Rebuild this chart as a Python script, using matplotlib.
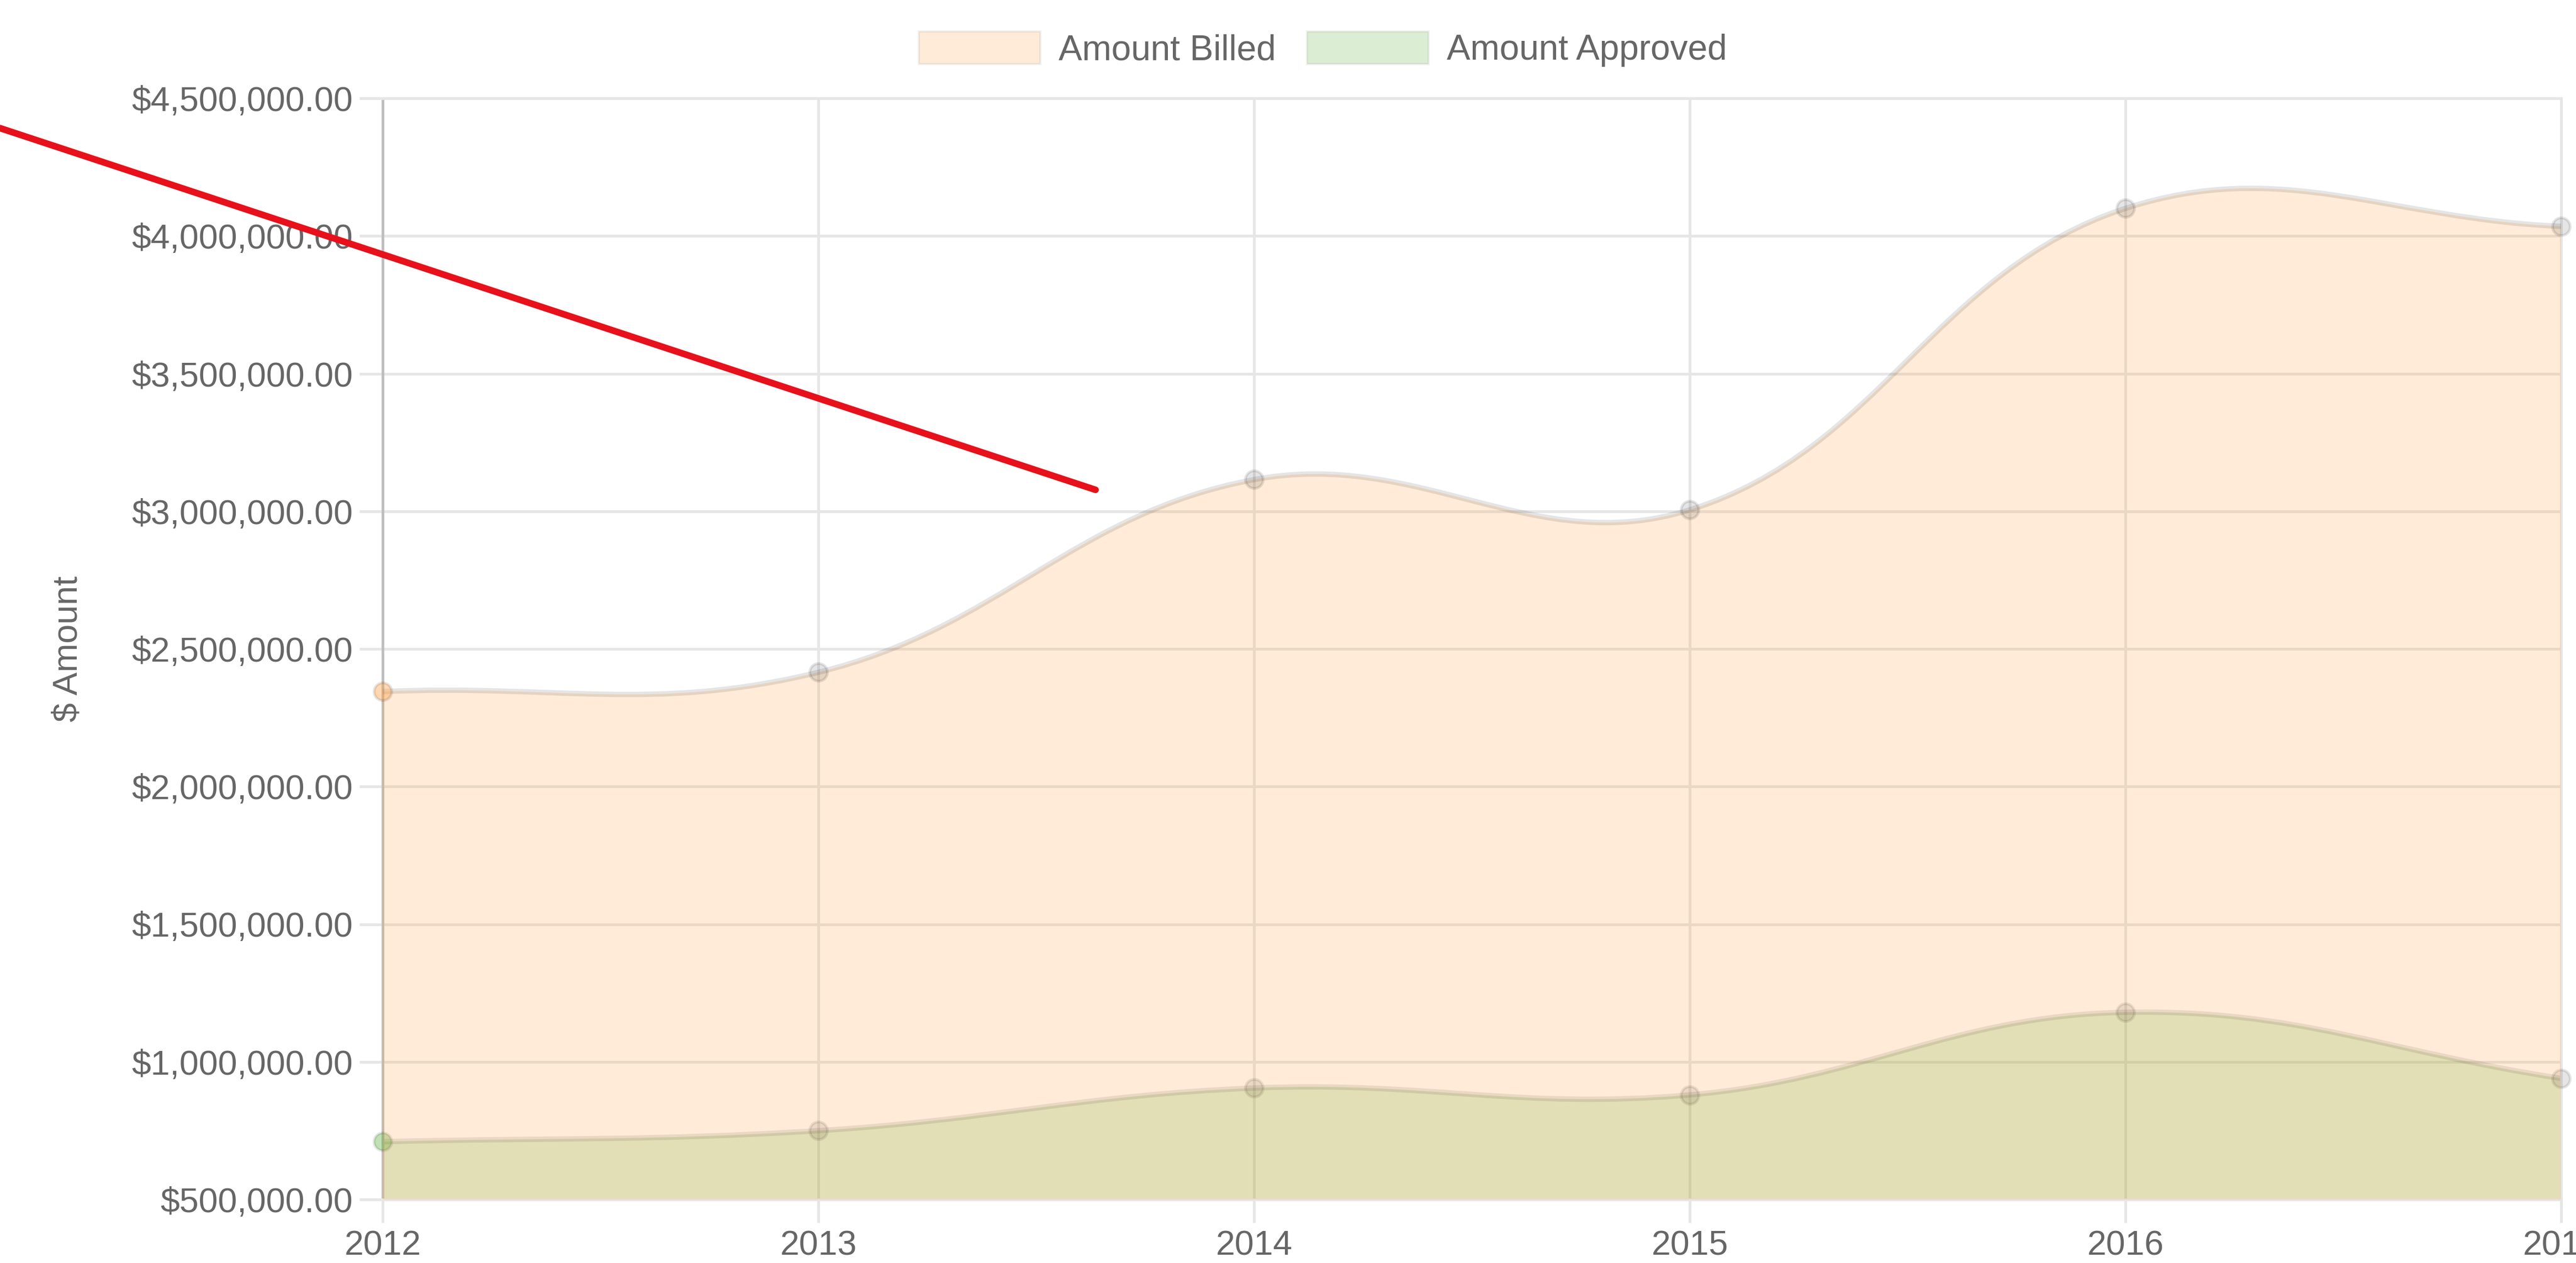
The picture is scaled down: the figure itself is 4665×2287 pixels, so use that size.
import matplotlib
matplotlib.use('Agg')
import matplotlib.pyplot as plt
import numpy as np
from matplotlib.path import Path
from matplotlib.patches import PathPatch, Patch
from matplotlib.lines import Line2D
from matplotlib.ticker import FuncFormatter

plt.rcParams['font.family'] = ['Liberation Sans', 'DejaVu Sans']

# --- data ---
years = ['2012', '2013', '2014', '2015', '2016', '2017']
amount_billed = [2345000, 2415000, 3115000, 3005000, 4100000, 4035000]
amount_approved = [710000, 750000, 905000, 880000, 1180000, 940000]
y_ticks = [500000, 1000000, 1500000, 2000000, 2500000,
           3000000, 3500000, 4000000, 4500000]

# --- styles (chart.js look) ---
BILLED_FILL = (255/255, 159/255, 64/255, 0.2)
APPROVED_FILL = (75/255, 170/255, 40/255, 0.2)
BORDER = (0, 0, 0, 0.1)
GRID = '#e6e6e6'
ZERO_LINE = '#bfbfbf'
TEXT = '#666666'
FS = 45


def spline_verts(ax, xs, ys, tension=0.4):
    """Bezier control points the way chart.js builds them (in pixel space)."""
    pts = ax.transData.transform(np.column_stack([xs, ys]))
    n = len(pts)
    cp_prev = pts.copy()
    cp_next = pts.copy()
    for i in range(n):
        prev = pts[i - 1] if i > 0 else pts[i]
        cur = pts[i]
        nxt = pts[i + 1] if i < n - 1 else pts[i]
        d01 = np.hypot(*(cur - prev))
        d12 = np.hypot(*(nxt - cur))
        tot = d01 + d12
        s01 = d01 / tot if tot else 0
        s12 = d12 / tot if tot else 0
        cp_prev[i] = cur - tension * s01 * (nxt - prev)
        cp_next[i] = cur + tension * s12 * (nxt - prev)
    bb = ax.bbox
    for arr in (cp_prev, cp_next):
        arr[:, 0] = np.clip(arr[:, 0], bb.x0, bb.x1)
        arr[:, 1] = np.clip(arr[:, 1], bb.y0, bb.y1)
    verts = [pts[0]]
    codes = [Path.MOVETO]
    for i in range(n - 1):
        verts += [cp_next[i], cp_prev[i + 1], pts[i + 1]]
        codes += [Path.CURVE4] * 3
    return ax.transData.inverted().transform(np.array(verts)), codes


fig = plt.figure(figsize=(46.65, 22.87), dpi=100)
ax = fig.add_axes([693 / 4665, 1 - 2172 / 2287, (4638 - 693) / 4665, (2172 - 178) / 2287])

x = np.arange(len(years))
ax.set_xlim(0, len(years) - 1)
ax.set_ylim(y_ticks[0], y_ticks[-1])
ax.set_xticks(x)
ax.set_xticklabels(years)
ax.set_yticks(y_ticks)
ax.yaxis.set_major_formatter(FuncFormatter(lambda v, p: f"${v:,.2f}"))

ax.set_axisbelow(True)
ax.grid(True, color=GRID, linewidth=3.6, alpha=1)
for side in ['top', 'right', 'bottom']:
    ax.spines[side].set_color(GRID)
    ax.spines[side].set_linewidth(3.6)
ax.spines['left'].set_color(ZERO_LINE)
ax.spines['left'].set_linewidth(3.6)

ax.tick_params(axis='both', length=30, width=3.6, color=GRID,
               labelcolor=TEXT, labelsize=FS, pad=9)
ax.xaxis.get_major_ticks()[0].tick1line.set_color(ZERO_LINE)
ax.xaxis.get_major_ticks()[0].gridline.set_color(ZERO_LINE)

ax.set_ylabel('$ Amount', fontsize=FS, color=TEXT)
ax.yaxis.set_label_coords(-0.137, 0.5)

# datasets: approved drawn first, billed on top (chart.js order)
series = [
    (amount_approved, APPROVED_FILL, (75/255, 170/255, 40/255, 0.35), 1),
    (amount_billed, BILLED_FILL, (255/255, 159/255, 64/255, 0.4), 4),
]
ymin = y_ticks[0]
for vals, fill, first_pt, z in series:
    verts, codes = spline_verts(ax, x, vals)
    fill_verts = list(verts) + [(x[-1], ymin), (x[0], ymin), (x[0], vals[0])]
    fill_codes = codes + [Path.LINETO, Path.LINETO, Path.CLOSEPOLY]
    ax.add_patch(PathPatch(Path(fill_verts, fill_codes), facecolor=fill,
                           edgecolor='none', zorder=z))
    ax.add_patch(PathPatch(Path(verts, codes), facecolor='none',
                           edgecolor=BORDER, linewidth=7, zorder=z + 1))
    faces = [first_pt] + [BORDER] * (len(vals) - 1)
    for xi, yi, fc in zip(x, vals, faces):
        ax.plot(xi, yi, 'o', markersize=23, markerfacecolor=fc,
                markeredgecolor=BORDER, markeredgewidth=3.6,
                clip_on=False, zorder=z + 2)

handles = [Patch(facecolor=BILLED_FILL, edgecolor=(0, 0, 0, 0.06), linewidth=3, label='Amount Billed'),
           Patch(facecolor=APPROVED_FILL, edgecolor=(0, 0, 0, 0.06), linewidth=3, label='Amount Approved')]
leg = fig.legend(handles=handles, loc='center', bbox_to_anchor=(2396 / 4665, 1 - 89 / 2287),
                 ncol=2, frameon=False, fontsize=46, handlelength=3.44, handleheight=1.06,
                 handletextpad=0.52, columnspacing=0.875, borderpad=0, borderaxespad=0)
for t in leg.get_texts():
    t.set_color(TEXT)

# red marker line drawn over the screenshot
fig.add_artist(Line2D([0, 1984 / 4665], [1 - 232 / 2287, 1 - 887 / 2287],
                      transform=fig.transFigure, color='#e8101a', linewidth=8.6,
                      solid_capstyle='round', zorder=20))

fig.savefig('out.png', dpi=100)
